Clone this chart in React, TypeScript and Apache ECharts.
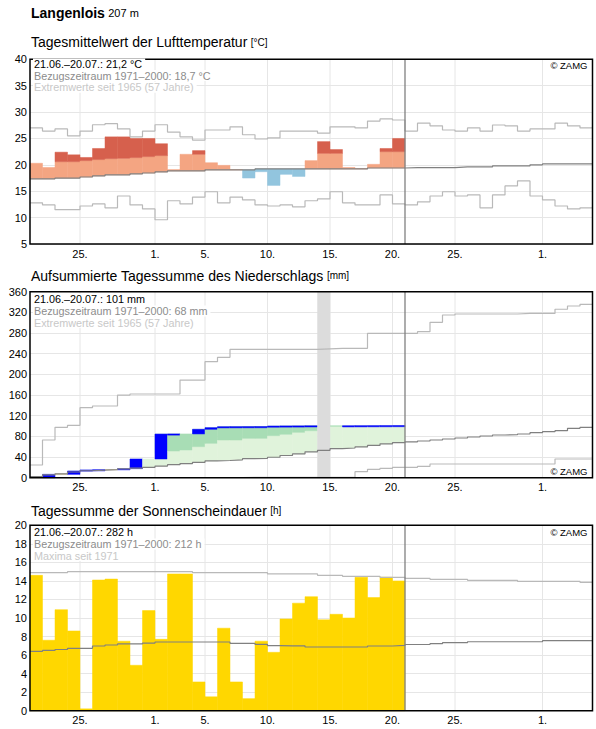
import { useEffect, useRef } from 'react';
import * as echarts from 'echarts';

const FONT = '"Liberation Sans", Arial, sans-serif';

// x axis: day index 0 = 21.06. … 44 = 04.08.; observations cover 21.06.–20.07. (30 days)
const DAY_COUNT = 45;
const OBS_DAYS = 30;
const tickDays = [4, 10, 14, 19, 24, 29, 34, 41];
const tickLabels = ['25.', '1.', '5.', '10.', '15.', '20.', '25.', '1.'];

// --- Tagesmittelwert der Lufttemperatur [°C]
const tempObserved = [20.3, 19.5, 22.4, 21.9, 21.4, 23.1, 25.3, 25.3, 25.0, 25.0, 24.0, 19.1, 22.0, 22.7, 20.4,
  19.9, 19.1, 17.5, 18.7, 16.1, 18.2, 17.8, 20.8, 24.4, 22.9, 19.5, 19.3, 20.1, 23.1, 25.0];
const tempNormal = [17.35, 17.35, 17.5, 17.5, 17.7, 17.9, 18.1, 18.1, 18.3, 18.45, 18.65, 18.85, 18.85, 18.85, 19.05,
  19.05, 19.05, 19.05, 19.22, 19.22, 19.22, 19.22, 19.22, 19.22, 19.22, 19.22, 19.22, 19.4, 19.4, 19.4,
  19.47, 19.47, 19.47, 19.47, 19.6, 19.6, 19.6, 19.8, 19.8, 19.8, 20.0, 20.17, 20.17, 20.17, 20.17];
const tempUpperNormal = [20.4, 20.5, 20.6, 20.6, 20.8, 21.0, 21.17, 21.24, 21.37, 21.56, 21.75, 21.8, 22.0, 22.0, 22.0,
  22.0, 22.05, 22.1, 22.2, 22.2, 22.2, 22.2, 22.2, 22.18, 22.18, 22.2, 22.3, 22.4, 22.5, 22.5];
const tempMax = [27.0, 26.4, 26.8, 25.5, 26.4, 27.6, 27.8, 26.8, 25.3, 26.4, 27.6, 26.2, 25.3, 24.7, 26.6,
  26.6, 27.2, 25.7, 24.9, 25.1, 26.4, 26.4, 26.4, 26.0, 27.2, 27.2, 27.0, 28.3, 28.7, 28.5,
  26.4, 27.9, 27.4, 26.6, 26.4, 27.0, 26.4, 27.55, 27.4, 26.4, 26.8, 26.8, 27.9, 27.4, 27.0];
const tempMin = [12.8, 12.4, 11.5, 11.5, 12.2, 12.6, 11.85, 14.1, 12.4, 11.65, 9.6, 13.2, 12.6, 13.9, 14.9,
  12.8, 13.9, 13.35, 12.4, 12.2, 12.4, 12.05, 13.2, 13.55, 14.9, 12.8, 12.4, 12.4, 14.3, 12.6,
  12.4, 13.0, 14.1, 14.9, 14.1, 14.3, 11.85, 14.3, 16.0, 16.95, 14.1, 13.35, 12.2, 11.65, 11.85];

// --- Aufsummierte Tagessumme des Niederschlags [mm]; null = no measurement
const precipDaily: (number | null)[] = [0, 6.5, 0, 6.5, 2.0, 0.5, 0, 2.0, 18.7, 0, 48.3, 0.2, 0, 9.0, 3.1,
  1.9, 0.1, 0.1, 0.1, 1.0, 0.2, 0.1, 0.2, null, 0, 0.1, 0.1, 0.1, 0.1, 0.1];
const precipNormal = [2.0, 5.5, 7.5, 11.0, 13.5, 14.5, 15.8, 17.2, 18.6, 20.0, 22.5, 25.2, 27.3, 29.8, 32.5,
  33.3, 34.6, 36.8, 37.5, 39.6, 43.0, 46.0, 50.0, 53.0, 56.2, 57.5, 59.5, 62.5, 65.5, 68.0,
  69.5, 71.0, 73.0, 74.9, 76.8, 78.8, 80.7, 82.6, 83.2, 84.6, 87.1, 89.0, 91.0, 95.5, 97.5];
const precipUpperNormal = [8, 12, 16, 20, 24, 27, 30, 34, 38, 42, 47, 51.7, 53.6, 60, 66.5,
  73, 73, 76.2, 76.2, 81.3, 84, 87.8, 91, 95, 99.5, 101.5, 103, 105, 107, 109];
const precipMax = [24.6, 73, 97.5, 101.4, 135.5, 138.8, 138.8, 160, 162, 162, 162, 162, 189, 189, 224.5,
  233, 248.5, 248.5, 248.5, 248.5, 248.5, 248.5, 248.5, 249.5, 250.4, 250.4, 250.4, 279.5, 279.5, 279.5,
  279.5, 282.6, 300.7, 314.9, 316.8, 316.8, 316.8, 316.8, 316.8, 318, 318, 318, 326, 332.3, 335.5];
const precipMin = [0, 0, 0, 0, 0, 0, 0, 0, 0, 0, 0, 0, 0, 0, 0,
  0, 0, 0.8, 0.8, 0.8, 0.8, 0.8, 0.8, 0.8, 0.8, 0.8, 11.6, 16.2, 18.1, 20.1,
  20.1, 22.0, 26.5, 26.5, 26.5, 26.5, 26.5, 26.5, 26.5, 26.5, 26.5, 26.5, 36.2, 36.2, 36.2];

// --- Tagessumme der Sonnenscheindauer [h]
const sunObserved = [14.6, 7.6, 10.9, 8.6, 0.2, 14.1, 14.2, 7.5, 4.9, 10.8, 7.7, 14.75, 14.75, 3.1, 1.5,
  8.9, 3.1, 1.3, 7.5, 6.3, 9.9, 11.6, 12.3, 9.8, 10.4, 10.0, 14.4, 12.2, 14.4, 14.0];
const sunNormal = [6.4, 6.5, 6.6, 6.73, 6.73, 6.98, 7.09, 7.2, 7.2, 7.3, 7.41, 7.41, 7.41, 7.41, 7.41,
  7.41, 7.27, 7.27, 7.16, 7.01, 7.0, 7.0, 6.87, 6.87, 6.87, 6.87, 6.87, 6.98, 6.98, 7.05,
  7.14, 7.14, 7.23, 7.34, 7.34, 7.44, 7.44, 7.44, 7.44, 7.44, 7.44, 7.55, 7.55, 7.55, 7.55];
const sunMax = [14.89, 14.89, 14.89, 15.0, 15.0, 15.0, 15.0, 15.0, 15.0, 15.0, 15.0, 15.0, 15.0, 14.89, 14.89,
  14.89, 14.89, 14.89, 14.89, 14.75, 14.75, 14.75, 14.75, 14.6, 14.6, 14.5, 14.5, 14.5, 14.39, 14.39,
  14.28, 14.28, 14.17, 14.17, 14.17, 14.06, 14.06, 14.06, 14.06, 13.96, 13.96, 13.96, 13.96, 13.96, 13.85];

const GRID_LINE = '#e6e6e6';
const NORMAL_LINE = '#808080';
const EXTREME_LINE = '#b9b9b9';
const SALMON = '#f4a582';
const RED = '#d6604d';
const LIGHT_BLUE = '#92c5de';
const LIGHT_GREEN = '#e0f3db';
const DARK_GREEN = '#a8ddb5';
const DRY = '#e0cf96';
const RAIN_BLUE = '#0000ff';
const SUN_YELLOW = '#ffd700';
const MISSING = '#dcdcdc';

const grids = [
  { top: 59.3, height: 184.7, min: 5, max: 40, interval: 5 },
  { top: 291.7, height: 186, min: 0, max: 360, interval: 40 },
  { top: 525.3, height: 185.4, min: 0, max: 20, interval: 2 },
];

function stepData(values: number[]) {
  const pts = values.map((v, i) => [i, v]);
  pts.push([values.length, values[values.length - 1]]);
  return pts;
}

function stepLine(values: number[], axis: number, color: string, width = 1.2) {
  return {
    type: 'line', xAxisIndex: axis, yAxisIndex: axis, data: stepData(values), step: 'end',
    showSymbol: false, symbol: 'none', silent: true, z: 4,
    lineStyle: { color, width },
  };
}

function dayRect(api: any, i: number, lo: number, hi: number, fill: string, minH = 0) {
  const a = api.coord([i, hi]);
  const b = api.coord([i + 1, lo]);
  const h = Math.max(b[1] - a[1], minH);
  return {
    type: 'rect',
    shape: { x: a[0], y: a[1], width: b[0] - a[0], height: h },
    style: { fill, stroke: fill, lineWidth: 0.5 },
  };
}

function verticalLines(axis: number, days: number[], color: string, width: number, z: number) {
  const g = grids[axis];
  return {
    type: 'custom', xAxisIndex: axis, yAxisIndex: axis, silent: true, z,
    data: days.map((d) => [d]),
    renderItem: (_p: any, api: any) => {
      const d = api.value(0);
      const a = api.coord([d, g.min]);
      const b = api.coord([d, g.max]);
      return { type: 'line', shape: { x1: a[0], y1: a[1], x2: b[0], y2: b[1] }, style: { stroke: color, lineWidth: width } };
    },
  };
}

function infoLines(top: number, lines: [string, string][]) {
  return lines.map(([text, color], k) => ({
    type: 'text', left: 33, top: top + k * 11.6 - 6.5, z: 20, silent: true,
    style: {
      text, fill: color, font: `10.8px ${FONT}`, backgroundColor: '#ffffff', padding: [0, 3, 0, 1],
    },
  }));
}

function zamg(y: number) {
  return {
    type: 'text', right: 8.5, top: y - 5.5, z: 20, silent: true,
    style: { text: '© ZAMG', fill: '#000', font: `9.5px ${FONT}` },
  };
}

function title(y: number, main: string, unit: string) {
  return {
    type: 'text', left: 31, top: y, z: 20, silent: true,
    style: {
      text: `{t|${main}} {u|${unit}}`,
      rich: {
        t: { fontSize: 14, fontFamily: FONT, fill: '#000' },
        u: { fontSize: 10, fontFamily: FONT, fill: '#000' },
      },
    },
  };
}

export default function App() {
  const ref = useRef<HTMLDivElement>(null);

  useEffect(() => {
    document.body.style.margin = '0';
    const chart = echarts.init(ref.current!, undefined, { renderer: 'svg' });

    const precipCum: number[] = [];
    let run = 0;
    precipDaily.forEach((v) => { run += v ?? 0; precipCum.push(run); });
    const missingDays = precipDaily.map((v, i) => (v === null ? i : -1)).filter((i) => i >= 0);

    const xAxes = grids.map((_, k) => ({
      type: 'value', gridIndex: k, min: 0, max: DAY_COUNT, interval: 1,
      axisLine: { show: false }, axisTick: { show: false }, splitLine: { show: false },
      axisLabel: {
        color: '#000', fontSize: 11, fontFamily: FONT, margin: 4,
        showMinLabel: true, showMaxLabel: true,
        formatter: (v: number) => {
          const idx = tickDays.indexOf(Math.round(v));
          return idx >= 0 ? tickLabels[idx] : '';
        },
      },
    }));

    const yAxes = grids.map((g, k) => ({
      type: 'value', gridIndex: k, min: g.min, max: g.max, interval: g.interval,
      axisLine: { show: false }, axisTick: { show: false },
      splitLine: { show: true, lineStyle: { color: GRID_LINE, width: 1 } },
      axisLabel: { color: '#000', fontSize: 11, fontFamily: FONT, margin: 3 },
    }));

    const option: any = {
      animation: false,
      backgroundColor: '#ffffff',
      textStyle: { fontFamily: FONT },
      grid: grids.map((g) => ({
        left: 30, width: 562.5, top: g.top, height: g.height,
        show: true, borderColor: '#000', borderWidth: 1.5, backgroundColor: 'transparent', z: 10,
      })),
      xAxis: xAxes,
      yAxis: yAxes,
      series: [
        // temperature
        verticalLines(0, tickDays, GRID_LINE, 1, 1),
        {
          type: 'custom', xAxisIndex: 0, yAxisIndex: 0, silent: true, z: 2,
          data: tempObserved.map((v, i) => [i, v, tempNormal[i], tempUpperNormal[i]]),
          renderItem: (_p: any, api: any) => {
            const i = api.value(0), obs = api.value(1), norm = api.value(2), up = api.value(3);
            const children: any[] = [];
            if (obs >= norm) {
              children.push(dayRect(api, i, norm, Math.min(obs, up), SALMON));
              if (obs > up) children.push(dayRect(api, i, up, obs, RED));
            } else {
              children.push(dayRect(api, i, obs, norm, LIGHT_BLUE));
            }
            return { type: 'group', children };
          },
        },
        stepLine(tempMax, 0, EXTREME_LINE),
        stepLine(tempMin, 0, EXTREME_LINE),
        stepLine(tempNormal, 0, NORMAL_LINE),
        verticalLines(0, [OBS_DAYS], NORMAL_LINE, 1.3, 6),

        // precipitation
        verticalLines(1, tickDays, GRID_LINE, 1, 1),
        {
          type: 'custom', xAxisIndex: 1, yAxisIndex: 1, silent: true, z: 2,
          data: precipDaily
            .map((v, i) => [i, precipCum[i], i > 0 ? precipCum[i - 1] : 0, precipNormal[i], precipUpperNormal[i], v === null ? -1 : v])
            .filter((d) => d[5] >= 0),
          renderItem: (_p: any, api: any) => {
            const i = api.value(0), cum = api.value(1), prev = api.value(2);
            const norm = api.value(3), up = api.value(4), daily = api.value(5);
            const children: any[] = [];
            if (cum > norm) {
              children.push(dayRect(api, i, norm, Math.min(cum, up), LIGHT_GREEN));
              if (cum > up) children.push(dayRect(api, i, up, cum, DARK_GREEN));
            } else if (cum < norm) {
              children.push(dayRect(api, i, cum, norm, DRY));
            }
            if (daily > 0) children.push(dayRect(api, i, prev, cum, RAIN_BLUE, 1.2));
            return { type: 'group', children };
          },
        },
        {
          type: 'custom', xAxisIndex: 1, yAxisIndex: 1, silent: true, z: 3,
          data: missingDays.map((d) => [d]),
          renderItem: (_p: any, api: any) => dayRect(api, api.value(0), grids[1].min, grids[1].max, MISSING),
        },
        stepLine(precipMax, 1, EXTREME_LINE),
        stepLine(precipMin, 1, EXTREME_LINE),
        stepLine(precipNormal, 1, NORMAL_LINE),
        verticalLines(1, [OBS_DAYS], NORMAL_LINE, 1.3, 6),

        // sunshine
        verticalLines(2, tickDays, GRID_LINE, 1, 1),
        {
          type: 'custom', xAxisIndex: 2, yAxisIndex: 2, silent: true, z: 2,
          data: sunObserved.map((v, i) => [i, v]),
          renderItem: (_p: any, api: any) => dayRect(api, api.value(0), 0, api.value(1), SUN_YELLOW),
        },
        stepLine(sunMax, 2, EXTREME_LINE),
        stepLine(sunNormal, 2, NORMAL_LINE),
        verticalLines(2, [OBS_DAYS], NORMAL_LINE, 1.3, 6),
      ],
      graphic: [
        {
          type: 'text', left: 31, top: 6, z: 20, silent: true,
          style: {
            text: '{b|Langenlois} {s|207 m}',
            rich: {
              b: { fontSize: 14, fontWeight: 'bold', fontFamily: FONT, fill: '#000' },
              s: { fontSize: 11, fontFamily: FONT, fill: '#000' },
            },
          },
        },
        title(35, 'Tagesmittelwert der Lufttemperatur', '[°C]'),
        title(268.5, 'Aufsummierte Tagessumme des Niederschlags', '[mm]'),
        title(503.5, 'Tagessumme der Sonnenscheindauer', '[h]'),
        ...infoLines(65, [
          ['21.06.–20.07.: 21,2 °C', '#000000'],
          ['Bezugszeitraum 1971–2000: 18,7 °C', '#8c8c8c'],
          ['Extremwerte seit 1965 (57 Jahre)', '#c8c8c8'],
        ]),
        ...infoLines(300.3, [
          ['21.06.–20.07.: 101 mm', '#000000'],
          ['Bezugszeitraum 1971–2000: 68 mm', '#8c8c8c'],
          ['Extremwerte seit 1965 (57 Jahre)', '#c8c8c8'],
        ]),
        ...infoLines(533.3, [
          ['21.06.–20.07.: 282 h', '#000000'],
          ['Bezugszeitraum 1971–2000: 212 h', '#8c8c8c'],
          ['Maxima seit 1971', '#c8c8c8'],
        ]),
        zamg(65.7),
        zamg(471.5),
        zamg(533.3),
      ],
    };

    chart.setOption(option);
    return () => chart.dispose();
  }, []);

  return <div ref={ref} style={{ width: 596, height: 729 }} />;
}
